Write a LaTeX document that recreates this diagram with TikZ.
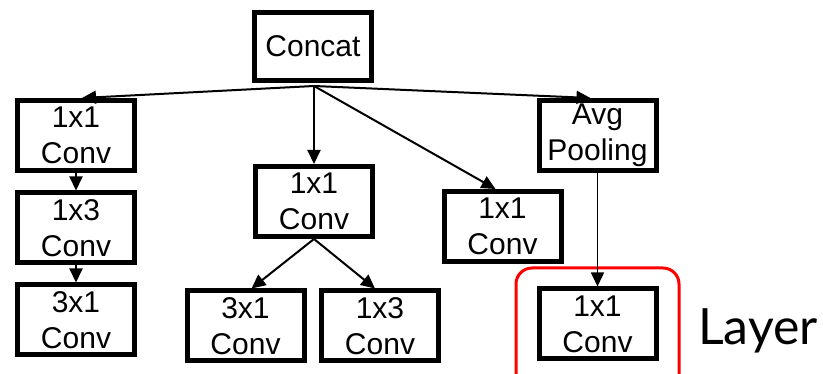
\documentclass[tikz,border=0pt]{standalone}
\usepackage{fontspec}
\setmainfont{Liberation Sans}
\newfontfamily\layerfont{Lato}
\usetikzlibrary{arrows.meta}
\begin{document}
\begin{tikzpicture}[x=1pt,y=-1pt,
  blk/.style={draw=black,line width=5pt,fill=white,minimum width=117pt,minimum height=70pt,
    inner sep=0pt,align=center,font=\fontsize{30}{36}\selectfont},
  link/.style={draw=black,line width=2pt,-{Triangle[length=14pt,width=13pt]}},
  thinlink/.style={draw=black,line width=1.5pt,-{Triangle[length=14pt,width=13pt]}}]
\useasboundingbox (0,0) rectangle (823,374);
% highlight around the final layer
\draw[red,line width=3pt,rounded corners=16pt] (516,268) rectangle (679,395);
% blocks
\node[blk,minimum height=68pt] (cat) at (313,46.5) {Concat};
\node[blk] (l1) at (76,135.5) {1x1\\Conv};
\node[blk] (l2) at (76,228) {1x3\\Conv};
\node[blk] (l3) at (76,320) {3x1\\Conv};
\node[blk] (m1) at (314,201.5) {1x1\\Conv};
\node[blk] (m2) at (245.5,326) {3x1\\Conv};
\node[blk] (m3) at (380,326) {1x3\\Conv};
\node[blk] (r1) at (502.5,226.5) {1x1\\Conv};
\node[blk] (ap) at (597.5,135.5) {Avg\\Pooling};
\node[blk] (b1) at (597.5,324) {1x1\\Conv};
\coordinate (src) at (314,86);
% connectors
\draw[link] (src) -- ([xshift=6pt]l1.north);
\draw[link] (src) -- (m1.north);
\draw[link] (src) -- ([xshift=-7pt]r1.north);
\draw[link] (src) -- ([xshift=-7pt]ap.north);
\draw[link] (l1.south) -- (l2.north);
\draw[link] (l2.south) -- (l3.north);
\draw[link] (m1.south) -- ([xshift=6pt]m2.north);
\draw[link] (m1.south) -- ([xshift=-5pt]m3.north);
\draw[thinlink] (ap.south) -- (b1.north);
% caption
\node[anchor=base west,inner sep=0pt,font=\layerfont\fontsize{50}{50}\selectfont] (lay) at (698,345) {Layer};
\end{tikzpicture}
\end{document}
